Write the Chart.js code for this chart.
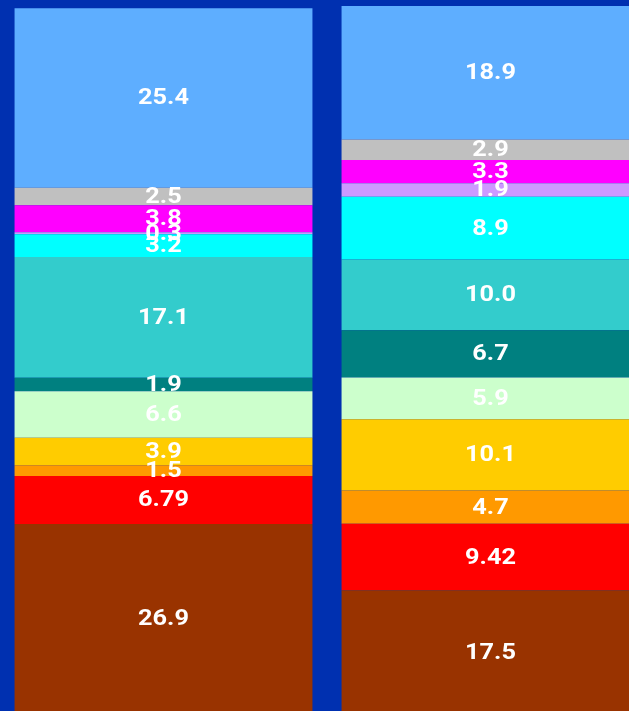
<!DOCTYPE html>
<html>
<head>
<meta charset="utf-8">
<script src="https://cdn.jsdelivr.net/npm/chart.js@4/dist/chart.umd.min.js"></script>
<style>
    html, body { margin: 0; padding: 0; background: #0030B0; overflow: hidden; }
    #wrap { position: relative; width: 654px; height: 714px; }
</style>
</head>
<body>
<div id="wrap"><canvas id="stackChart"></canvas></div>
<script>
// ADATOK (alulról felfelé)
const categories = ['A', 'B'];
const seriesNames = ['S1', 'S2', 'S3', 'S4', 'S5', 'S6', 'S7', 'S8', 'S9', 'S10', 'S11', 'S12'];
const seriesA = [26.9, 6.79, 1.5, 3.9, 6.6, 1.9, 17.1, 3.2, 0.3, 3.8, 2.5, 25.4];
const seriesB = [17.5, 9.42, 4.7, 10.1, 5.9, 6.7, 10.0, 8.9, 1.9, 3.3, 2.9, 18.9];
const seriesColors = ['#993300', '#FF0000', '#FF9900', '#FFCC00', '#CCFFCC', '#008080',
                      '#33CCCC', '#00FFFF', '#CC99FF', '#FF00FF', '#C0C0C0', '#5EAEFF'];

// egész számok is egy tizedessel
function fmt(v) {
    return Number.isInteger(v) ? v.toFixed(1) : String(v);
}

// címkék a szegmensek közepére
const segmentLabels = {
    id: 'segmentLabels',
    afterDatasetsDraw(chart) {
        const ctx = chart.ctx;
        chart.data.datasets.forEach((ds, i) => {
            chart.getDatasetMeta(i).data.forEach((bar, j) => {
                const p = bar.getProps(['x', 'y', 'base'], true);
                ctx.save();
                ctx.translate(p.x, (p.y + p.base) / 2 + 1);
                ctx.scale(1.15, 1);
                ctx.fillStyle = '#FFFFFF';
                ctx.font = 'bold 22px Roboto';
                ctx.textAlign = 'center';
                ctx.textBaseline = 'middle';
                ctx.fillText(fmt(ds.data[j]), 0, 0);
                ctx.restore();
            });
        });
    }
};

const ctx = document.getElementById('stackChart').getContext('2d');
new Chart(ctx, {
    type: 'bar',
    data: {
        labels: categories,
        datasets: seriesNames.map((name, i) => ({
            label: name,
            data: [seriesA[i], seriesB[i]],
            backgroundColor: seriesColors[i],
            borderWidth: 0,
            inflateAmount: 0,
            barPercentage: 0.911,
            categoryPercentage: 1.0
        }))
    },
    options: {
        responsive: true,
        maintainAspectRatio: false,
        animation: false,
        layout: { padding: { top: 6, left: 0, right: 0, bottom: 0 } },
        scales: {
            x: { stacked: true, display: false },
            y: { stacked: true, display: false, min: 0, max: 100.2 }
        },
        plugins: {
            legend: { display: false },
            tooltip: { enabled: false }
        }
    },
    plugins: [segmentLabels]
});
</script>
</body>
</html>
